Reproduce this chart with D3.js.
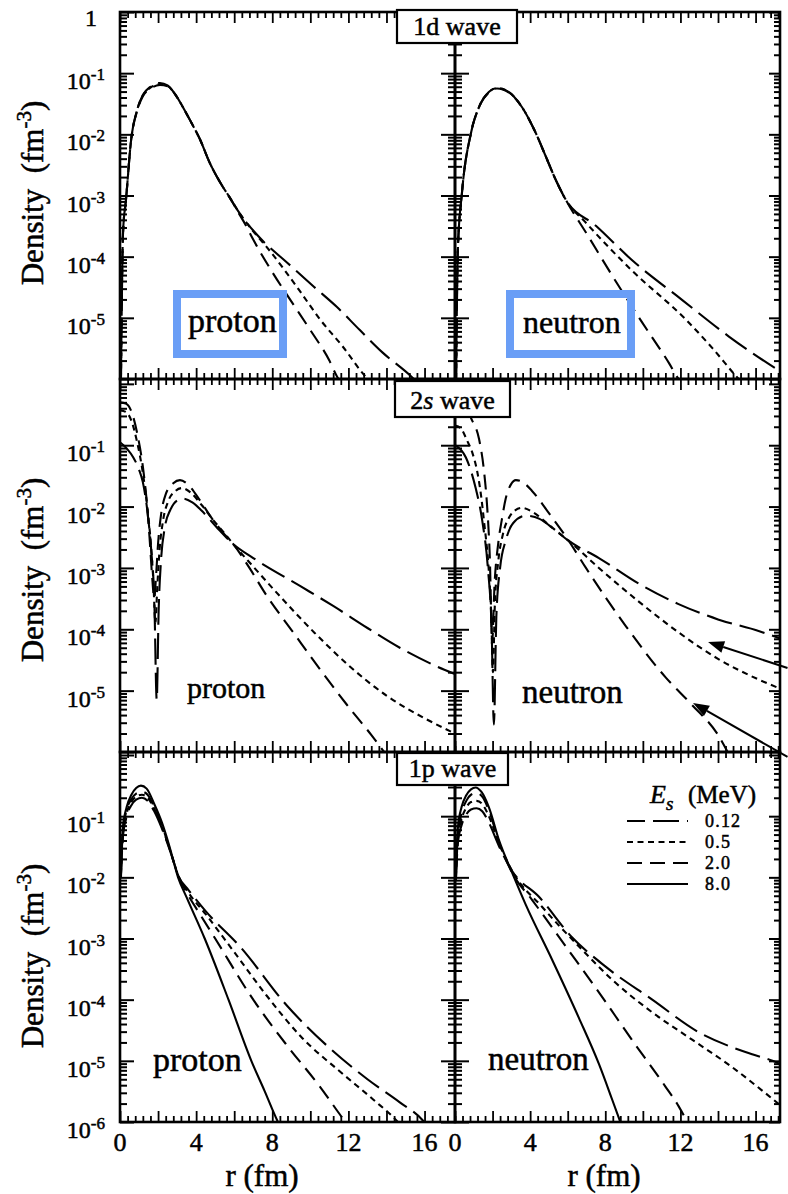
<!DOCTYPE html>
<html>
<head>
<meta charset="utf-8">
<script src="https://cdn.jsdelivr.net/npm/d3@7"></script>
<style>
  body { margin: 0; background: #fff; }
  text { font-family: "Liberation Serif", "Times New Roman", serif; fill: #000; }
</style>
</head>
<body>
<svg id="chart" width="788" height="1194"></svg>
<script>
// Separation energies E_s (MeV) and their line styles
const energies = ["0.12", "0.5", "2.0", "8.0"];

// Density (fm^-3) versus r (fm) for each state, nucleon and E_s
// ---- 1d wave, proton
const d1_proton_012 = [[0.05,1.0e-6],[0.16,2.5e-4],[0.32,8.9e-4],[0.58,7.9e-3],[0.9,2.5e-2],[1.2,4.4e-2],[1.6,6.0e-2],[2.1,6.9e-2],[2.5,6.3e-2],[2.9,4.5e-2],[3.3,2.8e-2],[3.7,1.66e-2],[4.2,8.3e-3],[4.7,3.5e-3],[5.25,1.66e-3],[5.8,8.9e-4],[6.2,5.6e-4],[7.37,2.0e-4],[8.8,7.9e-5],[10.2,3.2e-5],[11.4,1.5e-5],[12.6,6.3e-6],[13.8,2.7e-6],[15.3,1.1e-6],[15.6,8.9e-7]];
const d1_proton_05  = [[0.05,1.0e-6],[0.16,2.5e-4],[0.32,8.9e-4],[0.58,7.9e-3],[0.9,2.5e-2],[1.2,4.3e-2],[1.6,5.8e-2],[2.1,6.6e-2],[2.5,6.2e-2],[2.9,4.5e-2],[3.3,2.8e-2],[3.7,1.66e-2],[4.2,8.3e-3],[4.7,3.5e-3],[5.25,1.66e-3],[5.8,8.9e-4],[6.2,5.6e-4],[7.0,2.6e-4],[7.7,1.45e-4],[8.6,6.3e-5],[9.5,2.6e-5],[10.5,9.5e-6],[11.7,3.4e-6],[12.9,1.1e-6],[13.2,8.9e-7]];
const d1_proton_20  = [[0.05,1.0e-6],[0.16,2.5e-4],[0.32,8.9e-4],[0.58,7.9e-3],[0.9,2.4e-2],[1.2,4.2e-2],[1.6,5.6e-2],[2.1,6.4e-2],[2.5,6.1e-2],[2.9,4.5e-2],[3.3,2.8e-2],[3.7,1.66e-2],[4.2,8.3e-3],[4.7,3.5e-3],[5.25,1.66e-3],[5.8,8.9e-4],[6.2,5.4e-4],[6.6,3.3e-4],[7.0,1.9e-4],[8.0,5.6e-5],[9.0,1.86e-5],[10.0,6.3e-6],[11.0,2.0e-6],[11.4,1.1e-6],[11.6,8.9e-7]];
// ---- 1d wave, neutron
const d1_neutron_012 = [[0.06,1.0e-6],[0.15,1.26e-4],[0.37,1.1e-3],[0.85,1.05e-2],[1.28,2.8e-2],[1.8,4.9e-2],[2.23,5.75e-2],[2.87,4.9e-2],[3.56,2.8e-2],[4.3,1.05e-2],[4.84,4.3e-3],[5.37,1.78e-3],[5.9,8.5e-4],[7.5,3.2e-4],[9.4,8.9e-5],[12.1,1.95e-5],[14.6,4.9e-6],[17.2,1.4e-6],[17.6,1.17e-6]];
const d1_neutron_05  = [[0.06,1.0e-6],[0.15,1.26e-4],[0.37,1.1e-3],[0.85,1.05e-2],[1.28,2.8e-2],[1.8,4.9e-2],[2.23,5.7e-2],[2.87,4.9e-2],[3.56,2.8e-2],[4.3,1.05e-2],[4.84,4.3e-3],[5.37,1.78e-3],[5.9,8.5e-4],[7.0,3.5e-4],[9.4,6.0e-5],[12.3,9.3e-6],[13.7,3.2e-6],[15.1,1.0e-6],[15.4,8.0e-7]];
const d1_neutron_20  = [[0.06,1.0e-6],[0.15,1.26e-4],[0.37,1.1e-3],[0.85,1.05e-2],[1.28,2.8e-2],[1.8,4.8e-2],[2.23,5.6e-2],[2.87,4.8e-2],[3.56,2.8e-2],[4.3,1.05e-2],[4.84,4.3e-3],[5.37,1.78e-3],[5.9,8.5e-4],[7.0,2.4e-4],[8.35,5.0e-5],[9.8,1.0e-5],[11.4,1.8e-6],[11.9,1.0e-6],[12.1,8.5e-7]];
// ---- 2s wave, proton
const s2_proton_012 = [[0,0.112],[0.35,8.9e-2],[0.7,6.3e-2],[1.0,4.0e-2],[1.2,2.5e-2],[1.45,7.9e-3],[1.65,1.78e-3],[1.8,3.2e-4],[1.93,7.1e-6],[2.03,2.0e-4],[2.15,1.26e-3],[2.35,4.5e-3],[2.65,8.9e-3],[3.0,1.26e-2],[3.3,1.35e-2],[3.8,1.17e-2],[4.4,7.9e-3],[5.2,4.2e-3],[5.95,2.45e-3],[7.0,1.45e-3],[9.5,5.0e-4],[11.2,2.4e-4],[13.0,1.05e-4],[14.7,5.0e-5],[16.5,2.6e-5],[17.6,1.86e-5]];
const s2_proton_05  = [[0,0.37],[0.3,0.35],[0.6,0.25],[0.9,0.112],[1.2,3.55e-2],[1.45,8.9e-3],[1.62,2.5e-3],[1.75,6.3e-4],[1.86,1.26e-4],[1.96,5.0e-4],[2.08,2.0e-3],[2.25,5.6e-3],[2.55,1.26e-2],[2.9,1.78e-2],[3.25,2.0e-2],[3.7,1.7e-2],[4.3,1.05e-2],[4.9,6.0e-3],[5.45,3.8e-3],[5.95,2.45e-3],[7.0,1.05e-3],[8.5,3.2e-4],[10.2,8.9e-5],[12.0,2.6e-5],[14.0,8.3e-6],[16.0,3.55e-6],[17.6,2.0e-6]];
const s2_proton_20  = [[0,0.50],[0.3,0.48],[0.6,0.355],[0.9,0.158],[1.2,4.5e-2],[1.4,1.26e-2],[1.55,3.2e-3],[1.68,7.9e-4],[1.8,3.2e-4],[1.9,7.9e-4],[2.0,2.5e-3],[2.15,7.1e-3],[2.4,1.58e-2],[2.8,2.4e-2],[3.15,2.7e-2],[3.6,2.24e-2],[4.2,1.26e-2],[4.8,6.6e-3],[5.4,3.8e-3],[5.95,2.45e-3],[6.8,1.0e-3],[7.7,3.55e-4],[9.1,8.9e-5],[10.5,2.24e-5],[11.9,6.0e-6],[13.2,1.9e-6],[14.0,8.9e-7]];
// ---- 2s wave, neutron
const s2_neutron_012 = [[0,0.1],[0.58,6.3e-2],[1.1,2.0e-2],[1.45,5.9e-3],[1.75,1.0e-3],[1.95,1.0e-4],[2.07,2.8e-6],[2.2,1.58e-4],[2.4,1.0e-3],[2.7,2.8e-3],[3.1,5.4e-3],[3.77,7.1e-3],[4.5,6.3e-3],[5.3,4.2e-3],[6.06,2.75e-3],[7.66,1.45e-3],[9.8,5.5e-4],[11.9,2.57e-4],[14.0,1.45e-4],[16.2,9.3e-5],[17.4,6.9e-5]];
const s2_neutron_05  = [[0,0.21],[0.3,0.19],[0.64,0.12],[0.95,7.1e-2],[1.17,3.9e-2],[1.4,1.41e-2],[1.54,5.9e-3],[1.8,8.9e-4],[1.92,2.0e-4],[2.02,2.0e-5],[2.12,2.5e-4],[2.3,1.26e-3],[2.55,3.55e-3],[2.9,6.8e-3],[3.2,8.7e-3],[3.56,9.5e-3],[4.2,7.9e-3],[5.0,5.0e-3],[6.06,2.75e-3],[7.66,1.0e-3],[9.8,2.8e-4],[11.9,8.9e-5],[14.0,3.3e-5],[16.2,1.5e-5],[17.4,1.05e-5]];
const s2_neutron_20  = [[0,0.79],[0.4,0.63],[0.85,0.28],[1.28,0.126],[1.54,3.9e-2],[1.7,1.12e-2],[1.85,1.58e-3],[1.98,6.3e-5],[2.1,5.0e-4],[2.3,2.5e-3],[2.5,6.3e-3],[2.7,1.35e-2],[2.98,2.3e-2],[3.24,2.7e-2],[3.6,2.5e-2],[4.1,1.8e-2],[5.0,7.8e-3],[6.06,2.75e-3],[6.97,1.0e-3],[9.1,1.12e-4],[11.2,1.66e-5],[12.6,5.9e-6],[14.0,1.9e-6],[14.6,8.9e-7]];
// ---- 1p wave, proton
const p1_proton_012 = [[0.05,1.0e-2],[0.15,4.5e-2],[0.35,0.1],[0.6,0.151],[0.85,0.186],[1.15,0.2],[1.45,0.178],[1.8,0.12],[2.2,6.3e-2],[2.6,2.9e-2],[3.1,1.0e-2],[3.6,6.2e-3],[4.5,2.8e-3],[6.3,7.4e-4],[8.8,7.8e-5],[10.9,1.74e-5],[13.0,5.0e-6],[14.7,2.1e-6],[15.9,1.07e-6],[16.1,9.0e-7]];
const p1_proton_05  = [[0.05,1.12e-2],[0.15,5.0e-2],[0.35,0.112],[0.6,0.17],[0.85,0.209],[1.15,0.224],[1.45,0.2],[1.8,0.132],[2.2,6.8e-2],[2.6,2.95e-2],[3.1,1.0e-2],[3.6,5.6e-3],[4.5,2.5e-3],[6.0,6.0e-4],[7.7,1.17e-4],[9.5,2.5e-5],[11.6,6.5e-6],[13.3,2.34e-6],[14.6,1.0e-6],[14.8,8.5e-7]];
const p1_proton_20  = [[0.05,1.15e-2],[0.15,5.6e-2],[0.35,0.126],[0.6,0.19],[0.85,0.234],[1.15,0.251],[1.45,0.224],[1.8,0.141],[2.2,7.1e-2],[2.6,3.0e-2],[3.1,1.0e-2],[3.6,5.0e-3],[4.2,2.5e-3],[5.0,1.0e-3],[7.0,1.0e-4],[8.8,1.74e-5],[10.5,3.8e-6],[11.85,1.0e-6],[12.1,8.0e-7]];
const p1_proton_80  = [[0.05,1.4e-2],[0.15,6.3e-2],[0.35,0.141],[0.6,0.224],[0.85,0.288],[1.1,0.316],[1.4,0.282],[1.8,0.158],[2.2,7.9e-2],[2.6,3.2e-2],[3.05,1.0e-2],[3.5,4.7e-3],[4.45,1.0e-3],[5.7,1.0e-4],[6.9,1.0e-5],[7.6,3.2e-6],[8.3,1.0e-6],[8.5,7.6e-7]];
// ---- 1p wave, neutron
const p1_neutron_012 = [[0.05,8.9e-3],[0.15,3.55e-2],[0.35,7.1e-2],[0.6,0.107],[0.85,0.129],[1.15,0.135],[1.45,0.12],[1.8,7.9e-2],[2.35,3.2e-2],[3.05,1.26e-2],[4.47,4.8e-3],[6.2,1.07e-3],[8.0,3.5e-4],[10.5,1.0e-4],[13.0,2.9e-5],[15.5,1.38e-5],[16.9,1.0e-5],[17.4,8.7e-6]];
const p1_neutron_05  = [[0.05,1.0e-2],[0.15,4.2e-2],[0.35,8.9e-2],[0.6,0.138],[0.85,0.17],[1.15,0.178],[1.45,0.158],[1.8,0.1],[2.35,3.55e-2],[3.05,1.26e-2],[4.63,3.3e-3],[6.6,7.4e-4],[8.35,2.14e-4],[10.5,6.2e-5],[12.6,2.24e-5],[14.7,8.1e-6],[16.5,3.0e-6],[17.4,1.78e-6]];
const p1_neutron_20  = [[0.05,1.12e-2],[0.15,5.0e-2],[0.35,0.112],[0.6,0.178],[0.85,0.224],[1.15,0.24],[1.45,0.209],[1.8,0.126],[2.35,3.7e-2],[3.05,1.17e-2],[4.1,4.3e-3],[5.9,7.4e-4],[7.66,1.32e-4],[9.4,2.24e-5],[11.2,3.8e-6],[11.9,1.82e-6],[12.4,9.5e-7]];
const p1_neutron_80  = [[0.05,1.26e-2],[0.15,6.3e-2],[0.35,0.141],[0.6,0.219],[0.85,0.275],[1.1,0.295],[1.4,0.251],[1.8,0.141],[2.35,3.98e-2],[3.05,1.17e-2],[3.77,3.55e-3],[5.17,4.5e-4],[6.6,5.0e-5],[7.66,8.9e-6],[8.35,2.4e-6],[8.8,1.0e-6]];

// Arrow annotations in the 2s neutron panel: [r, density] of tail and tip
const arrowTails = [[17.7, 2.34e-5], [17.7, 8.3e-7]];
const arrowTips  = [[13.47, 6.2e-5], [12.67, 6.3e-6]];

// Axis tick labels
const xTickLabels = [0, 4, 8, 12, 16];
const yTickExponents = [-1, -2, -3, -4, -5, -6];

const series = [
  { wave: "1d", nucleon: "proton",  energy: "0.12", points: d1_proton_012 },
  { wave: "1d", nucleon: "proton",  energy: "0.5",  points: d1_proton_05 },
  { wave: "1d", nucleon: "proton",  energy: "2.0",  points: d1_proton_20 },
  { wave: "1d", nucleon: "neutron", energy: "0.12", points: d1_neutron_012 },
  { wave: "1d", nucleon: "neutron", energy: "0.5",  points: d1_neutron_05 },
  { wave: "1d", nucleon: "neutron", energy: "2.0",  points: d1_neutron_20 },
  { wave: "2s", nucleon: "proton",  energy: "0.12", points: s2_proton_012 },
  { wave: "2s", nucleon: "proton",  energy: "0.5",  points: s2_proton_05 },
  { wave: "2s", nucleon: "proton",  energy: "2.0",  points: s2_proton_20 },
  { wave: "2s", nucleon: "neutron", energy: "0.12", points: s2_neutron_012 },
  { wave: "2s", nucleon: "neutron", energy: "0.5",  points: s2_neutron_05 },
  { wave: "2s", nucleon: "neutron", energy: "2.0",  points: s2_neutron_20 },
  { wave: "1p", nucleon: "proton",  energy: "0.12", points: p1_proton_012 },
  { wave: "1p", nucleon: "proton",  energy: "0.5",  points: p1_proton_05 },
  { wave: "1p", nucleon: "proton",  energy: "2.0",  points: p1_proton_20 },
  { wave: "1p", nucleon: "proton",  energy: "8.0",  points: p1_proton_80 },
  { wave: "1p", nucleon: "neutron", energy: "0.12", points: p1_neutron_012 },
  { wave: "1p", nucleon: "neutron", energy: "0.5",  points: p1_neutron_05 },
  { wave: "1p", nucleon: "neutron", energy: "2.0",  points: p1_neutron_20 },
  { wave: "1p", nucleon: "neutron", energy: "8.0",  points: p1_neutron_80 }
];

// ---------------- layout & styles ----------------
const dash = { "0.12": "26,8", "0.5": "6,4.5", "2.0": "15,8", "8.0": null };
const rows = [
  { wave: "1d", label: "1d wave", top: 12,  bottom: 379,  yMax: 1.0,  title: [397, 10, 120, 33], labelY: 193, topLabel: true,  lowLabel: false },
  { wave: "2s", label: "2s wave", top: 379, bottom: 752,  yMax: 1.2,  title: [395, 381, 115, 36], labelY: 570, topLabel: false, lowLabel: false },
  { wave: "1p", label: "1p wave", top: 752, bottom: 1122, yMax: 1.12, title: [397, 753, 111, 32], labelY: 956, topLabel: false, lowLabel: true }
];
const cols = [
  { nucleon: "proton",  left: 120, right: 455, rMax: 17.6, rLabelX: 262 },
  { nucleon: "neutron", left: 455, right: 780, rMax: 17.3, rLabelX: 604 }
];

const svg = d3.select("#chart");
svg.append("rect").attr("width", 788).attr("height", 1194).attr("fill", "#fff");
const defs = svg.append("defs");

const plotLayer = svg.append("g");
const frameLayer = svg.append("g");
const textLayer = svg.append("g");

const heavy = sel => sel.attr("stroke", "#000").attr("stroke-width", 0.5).style("paint-order", "stroke");

const panelScales = {};

rows.forEach((row, ri) => {
  cols.forEach((col, ci) => {
    const x = d3.scaleLinear().domain([0, col.rMax]).range([col.left, col.right]);
    const y = d3.scaleLog().domain([1e-6, row.yMax]).range([row.bottom, row.top]);
    panelScales[row.wave + col.nucleon] = { x, y };

    const clipId = `clip-${ri}-${ci}`;
    defs.append("clipPath").attr("id", clipId)
      .append("rect").attr("x", col.left).attr("y", row.top)
      .attr("width", col.right - col.left).attr("height", row.bottom - row.top);

    // density curves
    const line = d3.line()
      .x(d => x(d[0]))
      .y(d => y(d[1]))
      .curve(d3.curveMonotoneX);

    const g = plotLayer.append("g").attr("clip-path", `url(#${clipId})`);
    series.filter(s => s.wave === row.wave && s.nucleon === col.nucleon).forEach(s => {
      g.append("path")
        .attr("d", line(s.points))
        .attr("fill", "none")
        .attr("stroke", "#000")
        .attr("stroke-width", 2.1)
        .attr("stroke-dasharray", dash[s.energy])
        .attr("stroke-linejoin", "round");
    });

    // y ticks: decades and 2..9 subdivisions
    const majors = [], minors = [];
    for (let e = -6; e <= 0; e++) {
      for (let m = 1; m <= 9; m++) {
        const v = m * Math.pow(10, e);
        if (v < 1e-6 || v > row.yMax * 1.0001) continue;
        (m === 1 ? majors : minors).push(v);
      }
    }
    const fx = frameLayer.append("g");
    const yAxisGroup = (axis, xPos, size, vals) => {
      const a = fx.append("g").attr("transform", `translate(${xPos},0)`)
        .call(axis(y).tickValues(vals).tickSize(size).tickSizeOuter(0).tickFormat(""));
      a.select(".domain").remove();
      a.selectAll("line").attr("stroke-width", 2);
    };
    if (ci === 0) {
      yAxisGroup(d3.axisRight, col.left, 14, majors);
      yAxisGroup(d3.axisRight, col.left, 7, minors);
    } else {
      yAxisGroup(d3.axisLeft, col.left, 14, majors);
      yAxisGroup(d3.axisLeft, col.left, 7, minors);
      yAxisGroup(d3.axisRight, col.left, 14, majors);
      yAxisGroup(d3.axisRight, col.left, 7, minors);
      yAxisGroup(d3.axisLeft, col.right, 11, majors);
      yAxisGroup(d3.axisLeft, col.right, 6, minors);
    }

    // x ticks on top and bottom edges
    const xMaj = d3.range(0, col.rMax + 0.001, 2);
    const xMin = d3.range(0, col.rMax + 0.001, 0.4).filter(v => Math.abs(v / 2 - Math.round(v / 2)) > 0.01);
    const xAxisGroup = (axis, yPos, size, vals) => {
      const a = fx.append("g").attr("transform", `translate(0,${yPos})`)
        .call(axis(x).tickValues(vals).tickSize(size).tickSizeOuter(0).tickFormat(""));
      a.select(".domain").remove();
      a.selectAll("line").attr("stroke-width", 1.8);
    };
    xAxisGroup(d3.axisBottom, row.top, 11, xMaj);
    xAxisGroup(d3.axisBottom, row.top, 6, xMin);
    xAxisGroup(d3.axisTop, row.bottom, 11, xMaj);
    xAxisGroup(d3.axisTop, row.bottom, 6, xMin);

    // panel frame
    fx.append("rect")
      .attr("x", col.left).attr("y", row.top)
      .attr("width", col.right - col.left).attr("height", row.bottom - row.top)
      .attr("fill", "none").attr("stroke", "#000").attr("stroke-width", 2.6);

    // y tick labels on the left column
    if (ci === 0) {
      yTickExponents.forEach(ex => {
        if (ex === -6 && !row.lowLabel) return;
        const ty = y(Math.pow(10, ex));
        const t = textLayer.append("text")
          .attr("x", 105).attr("y", ty + 16)
          .attr("text-anchor", "end")
          .style("font-size", "24px");
        t.append("tspan").text("10");
        t.append("tspan").attr("dy", -9).style("font-size", "17px").text(String(ex));
        heavy(t);
      });
      if (row.topLabel) {
        heavy(textLayer.append("text").attr("x", 97).attr("y", y(1) + 14)
          .attr("text-anchor", "end").style("font-size", "24px").text("1"));
      }
      // y axis title
      const yt = textLayer.append("text")
        .attr("transform", `translate(43,${row.labelY}) rotate(-90)`)
        .attr("text-anchor", "middle")
        .style("font-size", "31px")
        .attr("xml:space", "preserve");
      yt.append("tspan").text("Density  (fm");
      yt.append("tspan").attr("dy", -12).style("font-size", "21px").text("-3");
      yt.append("tspan").attr("dy", 12).text(")");
      heavy(yt);
    }

    // x tick labels and title under the bottom row
    if (ri === rows.length - 1) {
      xTickLabels.forEach(v => {
        heavy(textLayer.append("text")
          .attr("x", x(v)).attr("y", 1151)
          .attr("text-anchor", "middle")
          .style("font-size", "26px").text(v));
      });
      heavy(textLayer.append("text")
        .attr("x", col.rLabelX).attr("y", 1186)
        .attr("text-anchor", "middle")
        .style("font-size", "31px").text("r (fm)"));
    }
  });

  // state label box straddling the two columns
  const [bx, by, bw, bh] = row.title;
  frameLayer.append("rect").attr("x", bx).attr("y", by).attr("width", bw).attr("height", bh)
    .attr("fill", "#fff").attr("stroke", "#000").attr("stroke-width", 2.2);
  const tt = textLayer.append("text")
    .attr("x", bx + bw / 2).attr("y", by + bh - 8)
    .attr("text-anchor", "middle")
    .style("font-size", "26px");
  tt.append("tspan").text(row.label.slice(0, 1));
  tt.append("tspan").style("font-style", row.wave === "2s" ? "italic" : "normal").text(row.label.slice(1, 2));
  tt.append("tspan").text(row.label.slice(2));
  heavy(tt);
});

// nucleon labels
const nucleonLabels = [
  { text: "proton",  x: 188, y: 332, size: 34 },
  { text: "neutron", x: 523, y: 333, size: 32 },
  { text: "proton",  x: 187, y: 698, size: 30 },
  { text: "neutron", x: 522, y: 703, size: 33 },
  { text: "proton",  x: 153, y: 1071, size: 34 },
  { text: "neutron", x: 488, y: 1070, size: 33 }
];
nucleonLabels.forEach(l => {
  heavy(textLayer.append("text").attr("x", l.x).attr("y", l.y)
    .style("font-size", l.size + "px").text(l.text));
});

// highlight boxes around the 1d nucleon labels
[[177, 294, 106, 60], [510, 294, 121, 60]].forEach(([x0, y0, w, h]) => {
  textLayer.append("rect").attr("x", x0).attr("y", y0).attr("width", w).attr("height", h)
    .attr("fill", "none").attr("stroke", "#6a9ef6").attr("stroke-width", 8);
});

// arrows in the 2s neutron panel
const sc = panelScales["2sneutron"];
arrowTips.forEach((tip, i) => {
  const tail = arrowTails[i];
  const x1 = sc.x(tail[0]), y1 = sc.y(tail[1]);
  const x2 = sc.x(tip[0]), y2 = sc.y(tip[1]);
  const ang = Math.atan2(y2 - y1, x2 - x1);
  const L = 16, W = 6;
  const bxp = x2 - L * Math.cos(ang), byp = y2 - L * Math.sin(ang);
  textLayer.append("line").attr("x1", x1).attr("y1", y1).attr("x2", bxp).attr("y2", byp)
    .attr("stroke", "#000").attr("stroke-width", 2);
  textLayer.append("path")
    .attr("d", `M${x2},${y2}L${bxp - W * Math.sin(ang)},${byp + W * Math.cos(ang)}L${bxp + W * Math.sin(ang)},${byp - W * Math.cos(ang)}Z`)
    .attr("fill", "#000");
});

// legend (1p neutron panel)
const lg = textLayer.append("g");
const et = lg.append("text").attr("x", 650).attr("y", 803).style("font-size", "26px");
et.append("tspan").style("font-style", "italic").text("E");
et.append("tspan").attr("dy", 7).style("font-style", "italic").style("font-size", "19px").text("s");
heavy(et);
heavy(lg.append("text").attr("x", 688).attr("y", 803).style("font-size", "25px").text("(MeV)"));
const legendY = [821, 842, 863, 884];
energies.forEach((e, i) => {
  lg.append("line").attr("x1", 627).attr("x2", 688).attr("y1", legendY[i]).attr("y2", legendY[i])
    .attr("stroke", "#000").attr("stroke-width", 2.1).attr("stroke-dasharray", dash[e])
    .attr("stroke-dashoffset", e === "0.12" ? 8 : 0);
  heavy(lg.append("text").attr("x", 705).attr("y", legendY[i] + 6)
    .style("font-size", "18px").style("letter-spacing", "1.2px").text(e));
});
</script>
</body>
</html>
